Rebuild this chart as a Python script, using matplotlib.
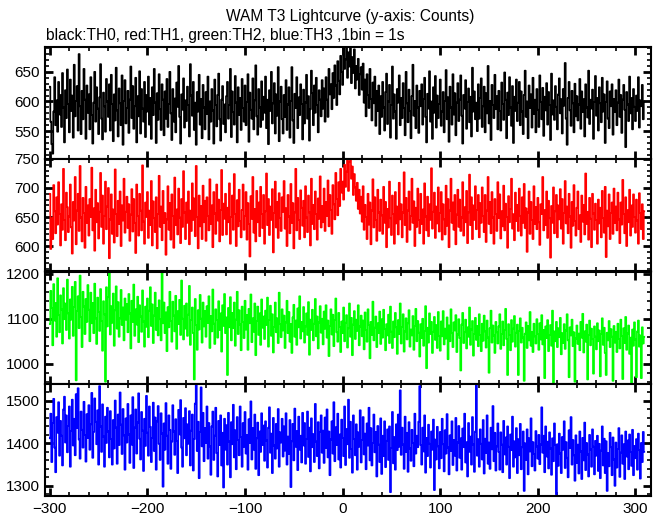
"""
WAM T3 lightcurve, four energy channels (TH0..TH3), 1 s bins
"""
import numpy as np
import matplotlib
matplotlib.use("Agg")
import matplotlib.pyplot as plt
from matplotlib.ticker import MultipleLocator

plt.rcParams['font.family'] = ['Liberation Sans', 'DejaVu Sans']

# time of first bin (s) and bin width (s)
t_start = -300
bin_width = 1

th0 = """
625 566 528 512 583 641 560 602 549 633 578 611 557 648 590 531 619 572 654 596
548 637 584 610 539 662 575 601 626 551 680 592 545 618 570 655 603 537 627 581
612 553 641 577 529 598 650 566 624 588 545 607 663 571 536 615 592 549 638 600
574 629 551 645 596 533 612 568 657 585 541 622 597 560 644 527 601 636 563 589
618 547 603 659 572 626 554 592 640 531 609 575 651 546 621 588 566 633 540 611
583 642 561 606 537 624 577 655 598 530 614 569 646 587 552 629 603 543 617 571
638 557 596 650 580 535 621 566 605 548 632 591 660 574 529 612 586 639 556 602
567 625 594 541 663 610 576 633 552 598 527 616 583 645 561 604 538 628 590 553
616 579 642 536 600 566 621 585 529 637 594 558 611 647 570 534 603 626 562 595
548 609 633 571 594 655 540 617 582 561 643 598 531 624 577 606 552 638 589 566
627 560 599 646 532 615 586 571 639 553 602 661 575 544 621 590 557 634 569 608
581 642 555 603 528 619 584 650 563 597 631 546 612 576 658 533 600 625 570 546
611 574 636 552 595 624 539 601 658 568 530 613 589 641 555 607 577 629 596 536
620 563 598 645 571 609 534 587 652 614 560 627 581 640 594 548 619 603 575 636
588 622 566 641 603 574 655 612 629 587 648 606 661 627 594 668 635 612 677 650
628 690 655 671 692 640 683 659 692 631 675 648 688 622 660 637 672 611 646 658
620 664 598 637 575 646 611 589 655 604 568 632 597 642 559 618 584 627 545 609
574 633 590 551 616 647 562 600 628 539 594 659 571 612 583 537 621 598 644 560
606 572 631 589 543 650 597 565 620 584 538 609 662 576 601 555 627 590 547 618
592 629 561 604 640 574 531 613 588 651 566 600 537 624 581 643 556 610 572 596
637 559 583 616 548 601 653 570 607 532 625 590 561 646 578 614 543 598 631 567
603 644 576 529 611 588 636 554 599 622 565 608 541 657 583 617 570 598 550 629
571 606 639 557 592 625 548 614 580 660 563 601 535 628 594 572 645 587 609 553
618 584 551 632 596 569 649 603 538 615 577 641 590 559 626 530 608 584 637 567
598 633 560 617 583 545 611 652 574 600 538 627 589 612 556 640 579 603 548 621
586 557 644 599 570 623 542 608 585 631 561 616 594 535 647 578 602 569 626 591
553 612 639 580 604 546 621 593 665 571 527 606 633 585 559 618 597 548 630 575
609 568 595 638 554 617 582 604 541 629 590 573 652 562 603 588 620 537 599 643
576 606 551 624 597 565 640 583 612 530 599 634 571 555 617 592 629 544 604 582
619 560 598 637 574 611 547 603 628 586 523 616 595 567 642 580 606 553 621 591
567 610 584 641 556 602 592 628 570 600
"""

th1 = """
690 595 648 612 705 660 622 684 637 710 655 601 672 628 733 645 610 692 667 624
651 706 632 587 676 644 719 603 661 690 626 738 649 608 683 657 597 702 640 670
618 681 650 735 627 665 592 697 641 674 613 659 726 633 687 604 652 711 629 668
700 579 646 689 621 663 606 732 655 617 678 638 694 600 670 644 716 623 659 685
631 672 609 654 698 625 681 640 588 706 652 618 690 661 627 739 642 604 675 650
693 614 661 636 712 601 677 648 624 684 596 655 721 633 668 610 695 640 657 585
646 703 628 674 611 689 652 597 718 636 663 620 699 649 605 681 633 729 658 612
675 640 694 603 661 626 708 645 682 617 738 650 596 687 634 669 612 704 641 678
609 684 652 627 715 638 670 598 693 656 621 706 644 680 608 662 731 619 673 647
690 620 666 641 708 604 650 687 628 724 655 600 679 634 697 643 615 662 706 628
652 693 611 674 638 582 686 647 719 623 664 608 695 641 675 617 702 655 631 688
604 660 725 636 681 619 668 645 698 589 657 711 632 676 614 691 648 626 684 659
712 630 665 600 688 651 622 707 640 674 596 658 733 627 683 645 612 696 666 635
678 615 703 649 624 687 658 601 716 638 671 629 694 655 611 682 647 720 632 669
641 699 626 676 652 713 634 688 662 621 705 672 646 726 681 653 710 669 733 692
711 680 740 702 728 752 695 745 758 716 737 688 724 701 678 709 664 697 656 685
642 703 628 671 650 612 690 637 675 603 661 715 632 684 645 609 697 658 626 680
653 621 702 640 676 598 664 632 711 648 619 687 655 604 693 639 668 620 709 646
672 615 658 727 636 683 607 661 694 628 652 716 640 677 600 666 633 699 645 622
690 638 663 604 708 651 627 685 617 672 645 734 630 659 692 614 668 639 701 625
657 693 611 672 646 620 704 635 681 598 661 716 640 675 628 688 603 654 697 633
680 626 649 710 618 667 641 695 605 658 723 636 684 612 670 645 703 629 662 688
615 674 640 701 652 624 688 607 661 719 638 676 622 693 649 604 681 655 626 710
648 689 613 660 634 704 627 673 650 597 686 641 664 716 630 655 610 692 643 671
626 699 652 618 684 640 707 631 665 590 658 694 621 676 645 612 703 638 667 629
683 641 602 672 655 719 627 662 636 694 614 678 648 580 669 640 701 622 660 688
615 670 646 698 630 681 604 657 712 639 668 622 690 651 597 676 635 705 643 618
666 694 629 653 607 687 642 671 620 725 638 659 611 683 647 598 690 656 628 673
645 604 680 639 666 615 695 648 623 702 581 661 634 689 612 657 675 621 699 640
668 627 692 646 605 675 637 714 655 622 684 600 662 641 697 618 670 633 689 650
623 680 644 604 691 657 629 672 612 660
"""

th2 = """
1088 1162 1124 1041 1177 1096 1135 1060 1190 1108 1070 1152 1121 1045 1168 1099 1134 1075 1187 1112
1056 1143 1098 1171 1062 1126 1182 963 1117 1150 1079 1196 1104 1037 1160 1127 1066 1144 1093 1175
1120 1050 1158 1090 1135 1068 1178 1101 1044 1147 1115 1073 1166 1095 1029 1139 1110 960 1170 1083
1148 1204 1065 1128 1091 1156 1040 1119 1172 1078 1137 1060 1101 1164 1086 1125 1052 1145 1098 1133
1070 1155 1112 1034 1140 1093 1176 1062 1121 1087 1149 1048 1130 1105 1071 1163 1094 1038 1127 1082
1145 1059 1118 1170 1084 1132 1046 1107 1158 1075 1124 1063 1141 1099 1052 1205 1090 1136 1068 1114
1028 1126 1081 1160 1095 1049 1138 1107 1072 1151 1033 1117 1088 1142 1064 1185 1100 1054 1129 1078
1134 1062 1109 1173 1042 1097 1125 1068 965 1144 1086 1031 1119 1076 1153 1100 1047 1136 1083 1117
1060 1128 1091 1150 1035 1106 1072 1165 1089 1044 1121 1097 1058 1139 1075 1112 1027 1130 1084 1155
1068 1103 975 1124 1081 1148 1052 1113 1079 1136 1040 1098 1160 1066 1119 1087 1030 1127 1093 1057
1140 1076 1108 1031 1122 1090 1154 1048 1101 1071 1134 1019 1095 1127 1064 1112 1042 1143 1080 1105
1055 1118 1086 1147 1038 1097 1129 1062 1110 1025 1082 1136 1070 1101 1046 1158 1088 1059 1121 1074
1107 1035 1092 1140 1068 1115 1049 1088 1024 1103 1131 1060 1096 1042 1123 1081 1150 1056 1093 1072
1126 1047 1083 1112 1064 1137 1020 1098 1075 1120 1052 1089 1144 1061 1105 1034 1092 1128 1069 1100
1043 1116 1078 1130 1058 1096 1017 1084 1121 1065 1109 1039 1097 1145 1070 1049 1113 1082 1026 1094
1068 1125 1050 1091 1108 1036 1079 1134 1060 1102 1019 1087 1117 1055 1098 1073 1130 1041 1083 1107
1061 1096 1032 1114 1075 1049 1121 1086 1012 1093 1064 1138 1052 1080 1105 1037 1090 1068 1116 1044
1099 1058 1120 1077 1030 1088 1063 1109 1046 1127 1071 1035 1094 1059 1113 1081 1022 1097 1066 1134
1045 1082 1110 1027 1072 1101 1054 1090 1119 1038 1076 1063 1106 1031 1084 1122 1050 1095 1069 1016
1088 1057 1100 1040 1073 1128 990 1080 1047 1112 1066 1093 1024 1071 1104 1053 1086 1035 1115 1062
1029 1094 1061 1117 1043 1078 1056 1103 1010 1085 1050 1121 1068 1037 1092 1074 1108 1026 1065 1099
1057 985 1087 1113 1046 1070 1098 1034 1081 1060 1125 1042 1076 1095 1018 1066 1102 1053 1084 1039
1110 1064 1028 1089 1051 1107 1072 1036 1096 1058 980 1079 1118 1047 1085 1063 1024 1093 1070 1045
1083 1110 1033 1066 1094 1041 1075 1122 1055 975 1088 1064 1030 1097 1049 1078 1106 1038 1069 1087
975 1073 1101 1047 1080 1058 962 1067 1092 1035 1084 1052 1115 1040 1071 1026 1089 1061 1045 1099
1066 1031 1090 1054 1108 1043 1075 968 1083 1057 1097 1028 1064 1086 1040 1118 958 1072 1050 1093
1037 1079 1059 1102 1021 1068 1046 1088 1033 1074 1110 1052 970 1081 1063 1098 1039 1070 960 1056
1085 1044 1067 1030 1093 1058 1111 1025 1072 1049 1087 965 1064 1096 1041 1078 1055 978 1083 1060
1032 1090 1050 1074 972 1066 1101 1042 1080 1024 975 1069 1052 1095 1037 1077 1060 962 1084 1047
1071 1026 1089 1055 1034 1098 1062 966 1079 1046 1104 1031 1067 1085 1022 1058 958 1076 1040 1092
1054 970 1072 1096 1038 1063 968 1081 1045 1060
"""

th3 = """
1412 1470 1356 1448 1505 1390 1332 1462 1425 1497 1371 1453 1418 1348 1480 1510 1402 1466 1379 1441
1487 1345 1429 1503 1395 1458 1372 1516 1436 1530 1409 1364 1475 1432 1390 1498 1420 1357 1469 1413
1490 1385 1445 1519 1366 1427 1506 1451 1398 1478 1350 1535 1440 1380 1492 1416 1345 1463 1401 1484
1428 1367 1476 1410 1350 1455 1388 1501 1437 1352 1468 1396 1520 1444 1375 1481 1419 1338 1459 1402
1493 1421 1354 1466 1397 1509 1342 1437 1480 1376 1449 1518 1411 1362 1474 1430 1335 1458 1394 1512
1425 1371 1487 1439 1356 1413 1496 1382 1461 1338 1452 1488 1399 1361 1471 1423 1298 1447 1385 1495
1418 1352 1466 1432 1340 1404 1490 1428 1373 1457 1406 1330 1479 1421 1502 1390 1345 1460 1412 1483
1372 1445 1399 1476 1348 1430 1468 1336 1410 1494 1538 1382 1451 1318 1427 1532 1393 1472 1358 1436
1401 1487 1364 1448 1393 1326 1440 1475 1361 1418 1484 1377 1322 1453 1396 1466 1348 1425 1296 1458
1385 1443 1350 1472 1404 1320 1450 1398 1491 1367 1431 1339 1462 1408 1372 1487 1415 1345 1448 1392
1474 1376 1420 1338 1457 1401 1499 1362 1436 1385 1468 1340 1412 1449 1325 1428 1380 1471 1396 1442
1359 1452 1407 1343 1437 1485 1378 1423 1330 1460 1395 1364 1446 1388 1481 1345 1426 1402 1458 1369
1440 1383 1471 1350 1416 1375 1455 1297 1405 1446 1360 1482 1392 1429 1337 1463 1385 1418 1355 1472
1395 1448 1352 1410 1475 1368 1437 1334 1459 1391 1422 1356 1493 1404 1370 1450 1341 1427 1466 1378
1430 1354 1461 1389 1480 1367 1428 1325 1409 1452 1376 1497 1358 1438 1396 1470 1362 1421 1343 1456
1413 1370 1487 1349 1434 1398 1503 1366 1451 1387 1331 1466 1410 1372 1445 1338 1426 1392 1478 1355
1408 1462 1374 1423 1339 1447 1395 1484 1360 1436 1348 1401 1468 1379 1427 1322 1441 1397 1356 1459
1328 1418 1370 1452 1344 1406 1433 1361 1440 1285 1389 1474 1353 1415 1338 1445 1384 1468 1392 1525
1373 1437 1397 1340 1463 1380 1425 1333 1450 1388 1359 1432 1401 1346 1470 1376 1418 1391 1451 1535
1396 1350 1437 1381 1466 1331 1413 1370 1444 1399 1343 1428 1385 1456 1290 1409 1362 1439 1393 1341
1427 1365 1458 1398 1334 1431 1376 1469 1390 1327 1419 1382 1452 1349 1408 1371 1460 1336 1402 1441
1366 1412 1338 1435 1391 1470 1355 1403 1322 1448 1380 1416 1350 1462 1397 1333 1428 1540 1371 1410
1345 1433 1399 1362 1455 1329 1411 1377 1466 1352 1402 1340 1437 1386 1488 1358 1425 1336 1393 1447
1380 1338 1426 1397 1332 1453 1374 1414 1350 1440 1392 1318 1421 1384 1463 1345 1405 1367 1436 1330
1410 1372 1446 1339 1391 1428 1288 1400 1361 1433 1327 1412 1381 1459 1346 1403 1375 1336 1429 1393
1364 1420 1351 1397 1485 1378 1418 1332 1440 1369 1404 1341 1426 1388 1326 1412 1358 1447 1396 1280
1398 1347 1423 1376 1330 1415 1385 1452 1342 1403 1366 1320 1431 1389 1462 1350 1408 1372 1312 1419
1354 1397 1329 1428 1381 1316 1413 1360 1449 1337 1401 1374 1322 1420 1386 1345 1433 1392 1327 1406
1371 1418 1335 1399 1318 1383 1440 1348 1411 1330 1405 1288 1377 1346 1425 1391 1325 1414 1362 1300
1402 1343 1387 1436 1321 1378 1419 1352 1398 1316 1428 1369 1407 1339 1421 1380 1347 1432 1325 1394
1365 1410 1338 1423 1384 1317 1401 1356 1427 1380
"""

channels = [th0, th1, th2, th3]
colors = ['black', 'red', '#00ff00', 'blue']
ylims = [(503, 692), (557, 750), (955, 1204), (1276, 1540)]
ymajor = [50, 50, 100, 100]
yminor = [10, 10, 20, 20]

fig = plt.figure(figsize=(6.61, 5.15), dpi=100)

left, width = 0.068, 0.917
bottoms = [0.6913, 0.4738, 0.2544, 0.0369]
height = 0.2175

for i, data in enumerate(channels):
    counts = np.array(data.split(), dtype=float)
    t = t_start + bin_width * np.arange(len(counts))
    ax = fig.add_axes([left, bottoms[i], width, height])
    ax.plot(t, counts, drawstyle='steps-mid', color=colors[i], lw=1.25)
    ax.set_xlim(-305, 316)
    ax.set_ylim(*ylims[i])
    ax.xaxis.set_major_locator(MultipleLocator(100))
    ax.xaxis.set_minor_locator(MultipleLocator(20))
    ax.yaxis.set_major_locator(MultipleLocator(ymajor[i]))
    ax.yaxis.set_minor_locator(MultipleLocator(yminor[i]))
    ax.tick_params(which='both', direction='in', top=True, right=True,
                   labelsize=11, width=1.2, pad=4)
    ax.tick_params(which='major', length=6, width=2)
    ax.tick_params(which='minor', length=3)
    for s in ax.spines.values():
        s.set_linewidth(1.5)
    if i < 3:
        ax.tick_params(labelbottom=False)

fig.text(0.53, 0.967, 'WAM T3 Lightcurve (y-axis: Counts)', ha='center',
         va='center', fontsize=11.2)
fig.text(0.07, 0.932, 'black:TH0, red:TH1, green:TH2, blue:TH3 ,1bin = 1s',
         ha='left', va='center', fontsize=11.2)

plt.savefig('out.png', dpi=100)
